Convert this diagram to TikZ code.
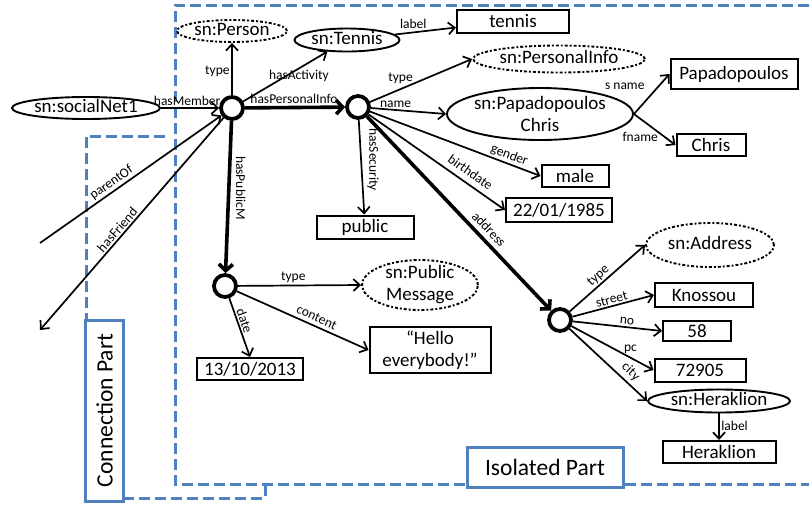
\documentclass[tikz,border=0pt]{standalone}
\usepackage{fontspec}
\setmainfont{Carlito}
\usetikzlibrary{shapes.geometric,arrows.meta}
\definecolor{ofblue}{HTML}{4F81BD}
\begin{document}
\begin{tikzpicture}[x=1pt,y=-1pt,
  txt/.style={font=\fontsize{19}{22}\selectfont, align=center},
  ell/.style={txt, ellipse, draw, line width=1.9pt, inner sep=0pt, text height=10pt, text depth=1pt},
  cls/.style={ell, dash dot},
  lit/.style={txt, rectangle, draw, line width=2pt, inner sep=0pt},
  blank/.style={circle, draw, line width=3.8pt, minimum size=22pt, inner sep=0pt},
  lab/.style={font=\fontsize{13.5}{14}\selectfont, inner sep=1.5pt},
  edge/.style={line width=1.7pt, -{Straight Barb[length=6.5pt,width=12pt]}},
  tedge/.style={line width=3.6pt, -{Straight Barb[length=6.5pt,width=14pt]}},
  region/.style={draw=ofblue, line width=3pt, dash pattern=on 11pt off 5pt},
  partbox/.style={draw=ofblue, line width=3pt, font=\fontsize{23.5}{27}\selectfont, inner sep=0pt}
]
\useasboundingbox (0,0) rectangle (809,504);

% regions
\node[partbox, minimum width=156pt, minimum height=40pt] (iso) at (545,467) {Isolated Part};
\node[partbox, rotate=90, minimum width=181pt, minimum height=38pt] (conn) at (104.5,410.5) {Connection Part};
\draw[region] (809,5) -- (175,5) -- (175,484) -- (iso.west |- 0,484);
\draw[region] (iso.east |- 0,484) -- (809,484);
\draw[region] (165,136) -- (86,136) -- (86,320);
\draw[region] (123,498) -- (265,498) -- (265,484);

% nodes
\node[ell, minimum width=148pt, minimum height=22pt] (net) at (86,108) {sn:socialNet1};
\node[blank] (b1) at (232,108) {};
\node[cls, minimum width=110pt, minimum height=22pt] (person) at (232,31) {sn:Person};
\node[ell, minimum width=105pt, minimum height=23pt] (tennisC) at (347,40) {sn:Tennis};
\node[lit, minimum width=112pt, minimum height=23pt] (tennis) at (513,21) {tennis};
\node[blank] (b2) at (358,107) {};
\node[cls, minimum width=172pt, minimum height=27pt] (pinfo) at (559,59) {sn:PersonalInfo};
\node[ell, minimum width=186pt, minimum height=52pt] (pc) at (540,114) {};
\node[txt] (pct) at (pc) {sn:Papadopoulos\\Chris};
\node[lit, minimum width=127pt, minimum height=30pt] (papa) at (734,74) {Papadopoulos};
\node[lit, minimum width=69pt, minimum height=22pt] (chris) at (711,145) {Chris};
\node[lit, minimum width=67pt, minimum height=22pt] (male) at (575,176) {male};
\node[lit, minimum width=106pt, minimum height=24pt] (bdate) at (559,210) {22/01/1985};
\node[lit, minimum width=97pt, minimum height=23pt] (public) at (365,227) {public};
\node[cls, minimum width=128pt, minimum height=44pt] (addrC) at (710,245) {sn:Address};
\node[blank] (b3) at (560,320) {};
\node[lit, minimum width=98pt, minimum height=24pt] (knossou) at (704,295) {Knossou};
\node[lit, minimum width=68pt, minimum height=20pt] (no58) at (697,331) {58};
\node[lit, minimum width=91pt, minimum height=23pt] (pc72) at (700,370) {72905};
\node[ell, minimum width=142pt, minimum height=23pt] (herC) at (719,401) {sn:Heraklion};
\node[lit, minimum width=113pt, minimum height=22pt] (her) at (719,452) {Heraklion};
\node[blank] (b4) at (225,286) {};
\node[cls, minimum width=116pt, minimum height=50pt] (pmC) at (420,285) {};
\node[txt] (pmt) at (pmC) {sn:Public\\Message};
\node[lit, minimum width=121pt, minimum height=46pt] (hello) at (430,350) {“Hello\\everybody!”};
\node[lit, minimum width=106pt, minimum height=22pt] (date) at (250,369) {13/10/2013};

\coordinate (pfrom) at (40,243);
\coordinate (fto) at (40,330);

% edges
\draw[edge] (net) -- node[lab, pos=0.45, above] {hasMember} (b1);
\draw[edge] (b1) -- node[lab, pos=0.45, left] {type} (person);
\draw[edge] (b1) -- node[lab, pos=0.52, xshift=12pt] {hasActivity} (tennisC);
\draw[tedge] (b1) -- node[lab, pos=0.49, above, yshift=1pt] {hasPersonalInfo} (b2);
\draw[tedge] (b1) -- node[lab, pos=0.44, xshift=12pt, rotate=-90] {hasPublicM} (b4);
\draw[edge] (pfrom) -- node[lab, sloped, above, pos=0.42] {parentOf} (b1);
\draw[edge] (b1) -- node[lab, sloped, above, pos=0.55] {hasFriend} (fto);

\draw[edge] (tennisC) -- node[lab, pos=0.3, above, yshift=1pt] {label} (tennis);
\draw[edge] (b2) -- node[lab, pos=0.3, above, yshift=3pt] {type} (pinfo.west);
\draw[edge] (b2) -- node[lab, pos=0.33, above] {name} (pc.west);
\draw[edge] (b2) -- node[lab, sloped, above, pos=0.8] {gender} (male.west);
\draw[edge] (b2) -- node[lab, sloped, above=4pt, pos=0.7] {birthdate} (bdate.west);
\draw[edge] (b2) -- node[lab, pos=0.42, xshift=12pt, rotate=-90] {hasSecurity} (public);
\draw[tedge] (b2) -- node[lab, sloped, above=3pt, pos=0.62] {address} (b3);

\draw[edge] (pc.east) -- node[lab, pos=0.7, anchor=east, xshift=-12pt] {s name} (papa.west);
\draw[edge] (pc.east) -- node[lab, pos=0.75, anchor=east, xshift=-5pt] {fname} (chris.west);

\draw[edge] (b3) -- node[lab, sloped, above, pos=0.45] {type} (addrC.west);
\draw[edge] (b3) -- node[lab, sloped, above, pos=0.5] {street} (knossou.west);
\draw[edge] (b3) -- node[lab, sloped, above, pos=0.6] {no} (no58.west);
\draw[edge] (b3) -- node[lab, pos=0.72, above, yshift=2pt] {pc} (pc72.west);
\draw[edge] (b3) -- node[lab, sloped, above=2pt, pos=0.7] {city} (herC.west);
\draw[edge] (herC) -- node[lab, right, pos=0.45] {label} (her);

\draw[edge] (b4) -- node[lab, pos=0.45, above] {type} (pmC.west);
\draw[edge] (b4) -- node[lab, sloped, above=2pt, pos=0.58] {content} (hello.west);
\draw[edge] (b4) -- node[lab, sloped, above, pos=0.42] {date} (date.north);
\end{tikzpicture}
\end{document}
